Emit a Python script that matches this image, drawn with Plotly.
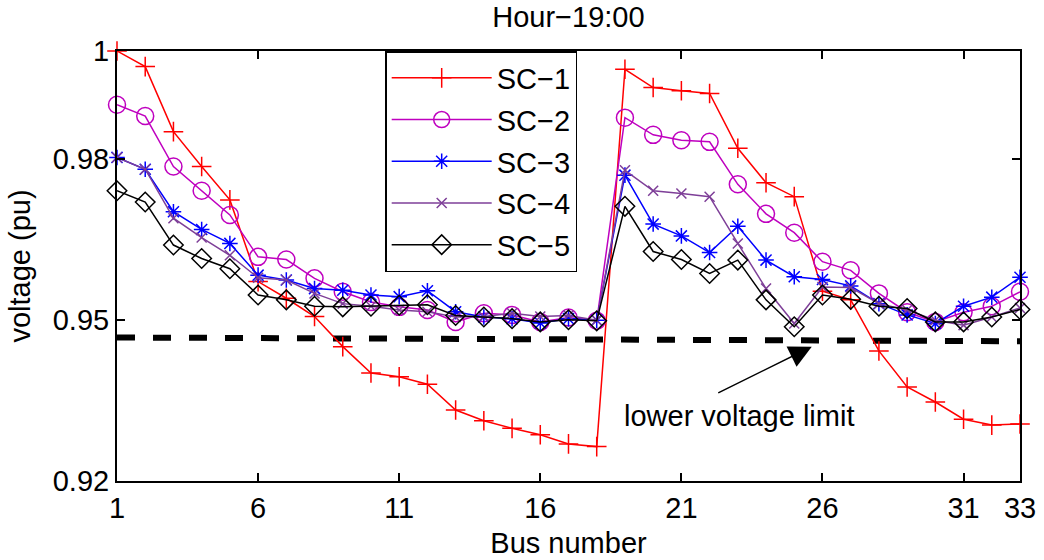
import plotly.graph_objects as go

bus = list(range(1, 34))

sc1 = [1.0000, 0.9971, 0.9850, 0.9785, 0.9723, 0.9571, 0.9540, 0.9506, 0.9450, 0.9401,
       0.9394, 0.9380, 0.9332, 0.9312, 0.9298, 0.9286, 0.9269, 0.9264, 0.9966, 0.9932,
       0.9926, 0.9921, 0.9819, 0.9755, 0.9729, 0.9553, 0.9537, 0.9442, 0.9375, 0.9347,
       0.9315, 0.9304, 0.9306]
sc2 = [0.9900, 0.9879, 0.9785, 0.9740, 0.9695, 0.9617, 0.9612, 0.9577, 0.9552, 0.9533,
       0.9524, 0.9518, 0.9496, 0.9512, 0.9509, 0.9496, 0.9504, 0.9498, 0.9876, 0.9844,
       0.9834, 0.9831, 0.9752, 0.9697, 0.9662, 0.9608, 0.9592, 0.9549, 0.9514, 0.9496,
       0.9514, 0.9525, 0.9552]
sc3 = [0.9802, 0.9780, 0.9701, 0.9668, 0.9642, 0.9583, 0.9574, 0.9558, 0.9555, 0.9546,
       0.9543, 0.9554, 0.9515, 0.9505, 0.9502, 0.9494, 0.9502, 0.9499, 0.9769, 0.9678,
       0.9656, 0.9625, 0.9674, 0.9611, 0.9580, 0.9575, 0.9563, 0.9530, 0.9509, 0.9493,
       0.9525, 0.9542, 0.9579]
sc4 = [0.9802, 0.9780, 0.9689, 0.9653, 0.9620, 0.9578, 0.9574, 0.9549, 0.9530, 0.9525,
       0.9518, 0.9515, 0.9505, 0.9506, 0.9512, 0.9506, 0.9508, 0.9499, 0.9778, 0.9740,
       0.9735, 0.9729, 0.9642, 0.9558, 0.9493, 0.9561, 0.9560, 0.9530, 0.9518, 0.9499,
       0.9490, 0.9505, 0.9522]
sc5 = [0.9740, 0.9719, 0.9639, 0.9614, 0.9595, 0.9546, 0.9537, 0.9525, 0.9524, 0.9525,
       0.9527, 0.9528, 0.9508, 0.9505, 0.9502, 0.9496, 0.9500, 0.9498, 0.9711, 0.9627,
       0.9612, 0.9586, 0.9611, 0.9537, 0.9487, 0.9546, 0.9538, 0.9525, 0.9521, 0.9496,
       0.9496, 0.9505, 0.9519]

limit_x = [1, 33]
limit_y = [0.9467, 0.9460]

series_names = ["SC−1", "SC−2", "SC−3", "SC−4", "SC−5"]
x_ticks = [1, 6, 11, 16, 21, 26, 31, 33]
y_ticks = [0.92, 0.95, 0.98, 1.0]
y_tick_text = ["0.92", "0.95", "0.98", "1"]

FONT = "Liberation Sans, Arial, Helvetica, sans-serif"
FS = 29

styles = [
    dict(color="#ff0000", symbol="cross-thin-open", size=14),
    dict(color="#bf00bf", symbol="circle-open", size=17),
    dict(color="#0000ff", symbol="asterisk-open", size=13),
    dict(color="#7e3f98", symbol="x-thin-open", size=10),
    dict(color="#000000", symbol="diamond-open", size=15),
]

fig = go.Figure()

fig.add_trace(go.Scatter(
    x=limit_x, y=limit_y, mode="lines",
    line=dict(color="black", width=6, dash="dash"),
    showlegend=False, hoverinfo="skip",
))

for name, ys, st in zip(series_names, [sc1, sc2, sc3, sc4, sc5], styles):
    fig.add_trace(go.Scatter(
        x=bus, y=ys, mode="lines+markers", name=name, legendgroup=name,
        line=dict(color=st["color"], width=1.5),
        marker=dict(symbol=st["symbol"], size=st["size"], color=st["color"],
                    line=dict(color=st["color"], width=1.5)),
        cliponaxis=False,
    ))

fig.add_annotation(
    x=25.62, y=0.9450, xref="x", yref="y",
    ax=-95, ay=47, axref="pixel", ayref="pixel",
    showarrow=True, arrowhead=2, arrowsize=3, arrowwidth=1.5, arrowcolor="black",
    text="",
)
fig.add_annotation(
    x=23.04, y=0.9321, xref="x", yref="y", showarrow=False,
    text="lower voltage limit", font=dict(family=FONT, size=FS, color="black"),
    xanchor="center", yanchor="middle",
)

axis_common = dict(
    showline=True, linecolor="black", linewidth=2, mirror="ticks",
    ticks="inside", ticklen=8, tickwidth=1.5, tickcolor="black",
    showgrid=False, zeroline=False, automargin=False,
    tickfont=dict(family=FONT, size=FS, color="black"),
)

fig.update_layout(
    width=1044, height=560,
    margin=dict(l=117, r=24, t=51, b=79, pad=0),
    paper_bgcolor="white", plot_bgcolor="white",
    font=dict(family=FONT, size=FS, color="black"),
    title=dict(text="Hour−19:00", x=0.5445, xanchor="center",
               y=1 - 17 / 560, yanchor="middle", yref="container",
               font=dict(family=FONT, size=FS, color="black")),
    xaxis=dict(range=[1, 33], tickvals=x_ticks,
               title=dict(text="Bus number", standoff=10,
                          font=dict(family=FONT, size=FS, color="black")),
               **axis_common),
    yaxis=dict(range=[0.92, 1.0], tickvals=y_ticks, ticktext=y_tick_text,
               title=dict(text="voltage (pu)", standoff=14,
                          font=dict(family=FONT, size=FS, color="black")),
               **axis_common),
    legend=dict(x=0.297, y=1.0, xanchor="left", yanchor="top",
                bgcolor="white", bordercolor="black", borderwidth=1.5,
                font=dict(family=FONT, size=FS, color="black"),
                tracegroupgap=1, itemwidth=100),
    showlegend=True,
)

fig.write_html("out.html")
